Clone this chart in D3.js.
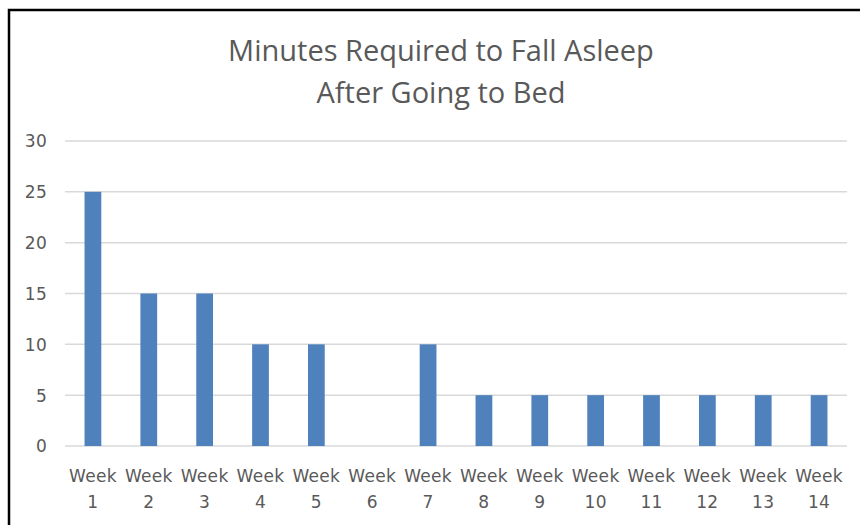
<!DOCTYPE html>
<meta charset="utf-8">
<style>
  body { margin: 0; background: #fff; }
  .tick text { fill: #595959; font-family: "DejaVu Sans", sans-serif; font-size: 17px; letter-spacing: 0.3px; }
  .title { fill: #595959; font-family: "Open Sans", Lato, sans-serif; font-size: 29px; }
</style>
<body></body>
<script src="https://d3js.org/d3.v7.min.js"></script>
<script>
// chart data
var weeks = ["Week 1", "Week 2", "Week 3", "Week 4", "Week 5", "Week 6", "Week 7",
             "Week 8", "Week 9", "Week 10", "Week 11", "Week 12", "Week 13", "Week 14"];
var minutes = [25, 15, 15, 10, 10, 0, 10, 5, 5, 5, 5, 5, 5, 5];
var yTicks = [0, 5, 10, 15, 20, 25, 30];
var titleLines = ["Minutes Required to Fall Asleep", "After Going to Bed"];

var width = 860, height = 525;
var margin = {top: 141, right: 13, bottom: 79, left: 65};

var svg = d3.select("body").append("svg")
    .attr("width", width)
    .attr("height", height);

// frame (only left + top edges are inside the picture)
svg.append("rect")
    .attr("x", 9).attr("y", 10)
    .attr("width", 900).attr("height", 600)
    .attr("fill", "none")
    .attr("stroke", "#000")
    .attr("stroke-width", 2.5);

var x = d3.scaleBand()
    .domain(weeks)
    .range([margin.left, width - margin.right])
    .paddingInner(0.7)
    .paddingOuter(0.35);

var y = d3.scaleLinear()
    .domain([0, 30])
    .range([height - margin.bottom, margin.top]);

// gridlines
svg.append("g")
  .selectAll("line")
  .data(yTicks)
  .join("line")
    .attr("x1", margin.left)
    .attr("x2", width - margin.right)
    .attr("y1", function(d) { return y(d); })
    .attr("y2", function(d) { return y(d); })
    .attr("stroke", "#d9d9d9")
    .attr("stroke-width", 1.5);

// bars
svg.append("g")
  .selectAll("rect")
  .data(minutes)
  .join("rect")
    .attr("x", function(d, i) { return x(weeks[i]); })
    .attr("y", function(d) { return y(d); })
    .attr("width", x.bandwidth())
    .attr("height", function(d) { return y(0) - y(d); })
    .attr("fill", "#4f81bd");

// y axis
var yAxis = svg.append("g")
    .attr("transform", "translate(" + (margin.left - 18) + ",0)")
    .call(d3.axisLeft(y).tickValues(yTicks).tickSize(0));
yAxis.select(".domain").remove();
yAxis.selectAll("text").attr("x", 0).attr("dy", "0.35em");

// x axis, two-line labels
var xAxis = svg.append("g")
    .attr("transform", "translate(0," + y(0) + ")")
    .call(d3.axisBottom(x).tickSize(0));
xAxis.select(".domain").remove();
xAxis.selectAll("text")
    .text(null)
    .attr("y", 0)
    .attr("dy", null)
    .each(function(d) {
      var parts = d.split(" ");
      var t = d3.select(this);
      t.append("tspan").attr("x", 0).attr("y", 36).text(parts[0]);
      t.append("tspan").attr("x", 0).attr("y", 62).text(parts[1]);
    });

// title
svg.append("text")
    .attr("class", "title")
    .attr("text-anchor", "middle")
    .selectAll("tspan")
    .data(titleLines)
    .join("tspan")
      .attr("x", 441)
      .attr("y", function(d, i) { return 61 + i * 42; })
      .text(function(d) { return d; });
</script>
